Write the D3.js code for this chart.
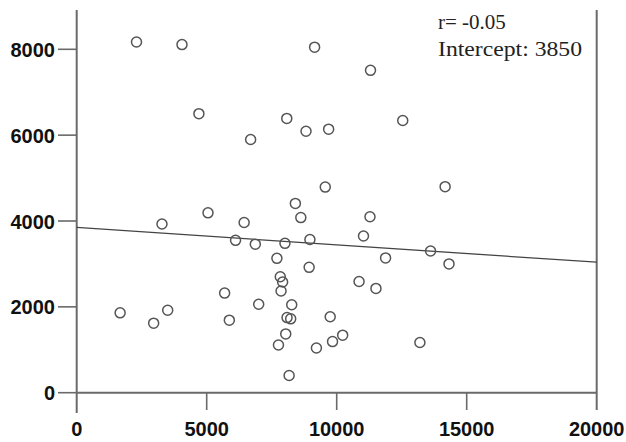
<!DOCTYPE html>
<html>
<head>
<meta charset="utf-8">
<script src="https://cdn.jsdelivr.net/npm/d3@7"></script>
<style>
  html, body { margin: 0; padding: 0; background: #fff; }
  svg { display: block; }
</style>
</head>
<body>
<svg id="chart" width="626" height="442"></svg>
<script>
// ---- data ----
const xValues = [2300, 4050, 9150, 11300, 4700, 8080, 12540, 9690, 8820, 6690,
                 14170, 9560, 8410, 5050, 8620, 11280, 3280, 6440, 6110, 6870,
                 8010, 8970, 11030, 13610, 7700, 11880, 14320, 8940, 7830, 7920,
                 7860, 5690, 10860, 11510, 1670, 2960, 3500, 5870, 7000, 8270,
                 8090, 8230, 9750, 8040, 7760, 10230, 9840, 9220, 13200, 8170];
const yValues = [8170, 8110, 8050, 7510, 6500, 6390, 6340, 6140, 6090, 5900,
                 4800, 4790, 4410, 4190, 4080, 4100, 3930, 3965, 3550, 3460,
                 3480, 3570, 3650, 3300, 3130, 3140, 3000, 2920, 2700, 2580,
                 2370, 2320, 2590, 2430, 1860, 1620, 1920, 1690, 2060, 2050,
                 1750, 1720, 1770, 1370, 1110, 1340, 1190, 1040, 1170, 400];
const xTicks = [0, 5000, 10000, 15000, 20000];
const yTicks = [0, 2000, 4000, 6000, 8000];
const intercept = 3850;
const slope = -0.0405;
const rValue = "-0.05";
const xDomain = [0, 20000];

// ---- drawing ----
const svg = d3.select("#chart");
const x = d3.scaleLinear().domain(xDomain).range([76.7, 596.7]);
const y = d3.scaleLinear().domain([0, 8000]).range([392.7, 49.3]);

const axisColor = "#6a6a6a";
const g = svg.append("g");

// left axis line
g.append("line").attr("x1", x(0)).attr("x2", x(0))
  .attr("y1", 10).attr("y2", 413)
  .attr("stroke", axisColor).attr("stroke-width", 2);
// right frame line
g.append("line").attr("x1", x(20000)).attr("x2", x(20000))
  .attr("y1", 10).attr("y2", 410)
  .attr("stroke", axisColor).attr("stroke-width", 2);
// bottom axis line
g.append("line").attr("x1", x(0)).attr("x2", x(20000))
  .attr("y1", y(0)).attr("y2", y(0))
  .attr("stroke", axisColor).attr("stroke-width", 2);

// y ticks
yTicks.forEach(t => {
  g.append("line").attr("x1", 58).attr("x2", x(0))
    .attr("y1", y(t)).attr("y2", y(t))
    .attr("stroke", axisColor).attr("stroke-width", 1.6);
  g.append("text").attr("x", 55).attr("y", y(t) + 7.5)
    .attr("text-anchor", "end")
    .attr("font-family", "Liberation Sans, Arial, sans-serif")
    .attr("font-weight", "bold").attr("font-size", 20)
    .attr("fill", "#111").text(t);
});

// x ticks
xTicks.forEach(t => {
  if (t !== 0 && t !== 20000) {
    g.append("line").attr("x1", x(t)).attr("x2", x(t))
      .attr("y1", y(0)).attr("y2", 410)
      .attr("stroke", axisColor).attr("stroke-width", 1.6);
  }
  g.append("text").attr("x", x(t)).attr("y", 436)
    .attr("text-anchor", "middle")
    .attr("font-family", "Liberation Sans, Arial, sans-serif")
    .attr("font-weight", "bold").attr("font-size", 20)
    .attr("fill", "#111").text(t);
});

// regression line
g.append("line")
  .attr("x1", x(xDomain[0])).attr("y1", y(intercept + slope * xDomain[0]))
  .attr("x2", x(xDomain[1])).attr("y2", y(intercept + slope * xDomain[1]))
  .attr("stroke", "#444").attr("stroke-width", 1.3);

// points
const pts = xValues.map((v, i) => ({ x: v, y: yValues[i] }));
g.selectAll("circle.pt").data(pts).enter().append("circle")
  .attr("class", "pt")
  .attr("cx", d => x(d.x)).attr("cy", d => y(d.y))
  .attr("r", 5)
  .attr("fill", "none")
  .attr("stroke", "#555").attr("stroke-width", 1.5);

// annotation
g.append("text").attr("x", 438).attr("y", 28.5)
  .attr("font-family", "Liberation Serif, Times New Roman, serif")
  .attr("font-size", 21).attr("fill", "#222")
  .text("r= " + rValue);
g.append("text").attr("x", 438).attr("y", 56)
  .attr("font-family", "Liberation Serif, Times New Roman, serif")
  .attr("font-size", 21).attr("fill", "#222")
  .attr("textLength", 144).attr("lengthAdjust", "spacingAndGlyphs")
  .text("Intercept: " + intercept);
</script>
</body>
</html>
